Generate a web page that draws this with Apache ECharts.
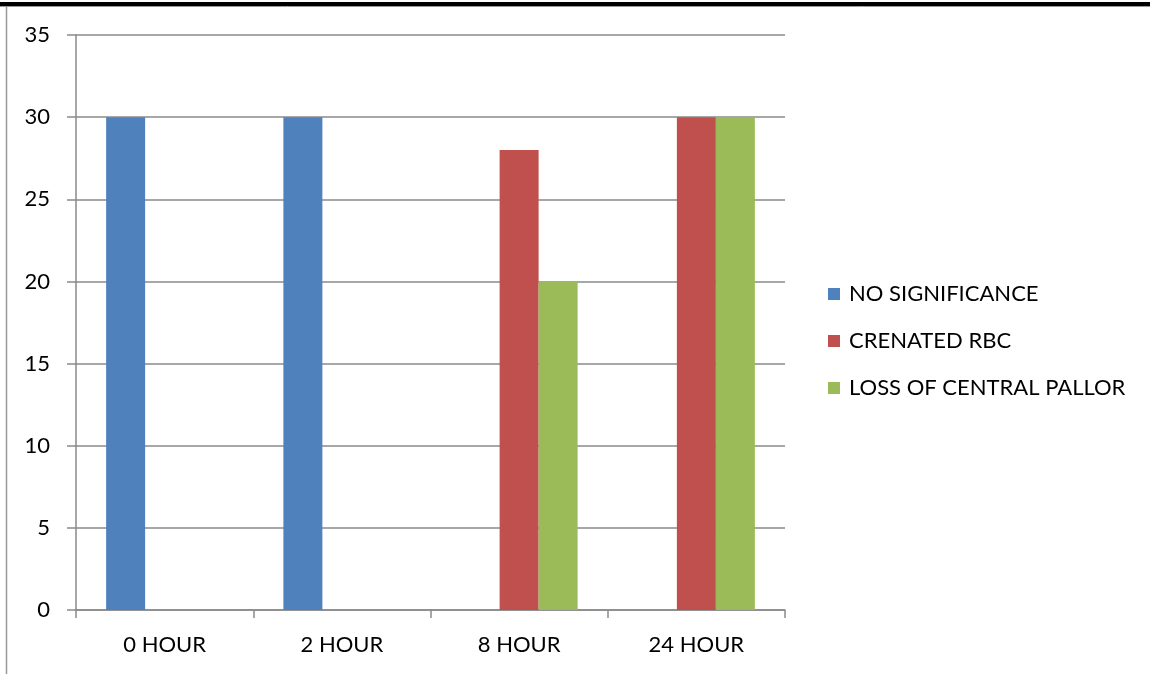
<!DOCTYPE html>
<html>
<head>
<meta charset="utf-8">
<script src="https://cdn.jsdelivr.net/npm/echarts@6/dist/echarts.min.js"></script>
<style>
  html, body { margin: 0; padding: 0; background: #fff; }
  #chart { width: 1150px; height: 674px; }
</style>
</head>
<body>
<div id="chart"></div>
<script>
// Observation times and counts per finding
const categories = ['0 HOUR', '2 HOUR', '8 HOUR', '24 HOUR'];
const seriesNames = ['NO SIGNIFICANCE', 'CRENATED RBC', 'LOSS OF CENTRAL PALLOR'];
const noSignificance = [30, 30, 0, 0];
const crenatedRbc = [0, 0, 28, 30];
const lossOfCentralPallor = [0, 0, 20, 30];
const seriesColors = ['#4F81BD', '#C0504D', '#9BBB59'];

const FONT = 'Lato';
const chart = echarts.init(document.getElementById('chart'));

const values = [noSignificance, crenatedRbc, lossOfCentralPallor];

chart.setOption({
  animation: false,
  backgroundColor: '#fff',
  textStyle: { fontFamily: FONT },
  grid: { left: 76, right: 365, top: 35, bottom: 64, containLabel: false },
  legend: {
    orient: 'vertical',
    left: 828,
    top: 281,
    padding: 0,
    itemWidth: 12,
    itemHeight: 12,
    itemGap: 21,
    icon: 'rect',
    textStyle: { fontFamily: FONT, fontSize: 22, color: '#000', lineHeight: 26, padding: [0, 0, 0, 4] },
    data: seriesNames
  },
  xAxis: {
    type: 'category',
    data: categories,
    axisLine: { lineStyle: { color: '#8a8a8a', width: 1.5 } },
    axisTick: { show: true, length: 8, lineStyle: { color: '#8a8a8a', width: 1.5 } },
    axisLabel: { fontFamily: FONT, fontSize: 22, color: '#000', margin: 24 }
  },
  yAxis: {
    type: 'value',
    min: 0,
    max: 35,
    interval: 5,
    axisLine: { show: true, lineStyle: { color: '#8a8a8a', width: 1.5 } },
    axisTick: { show: true, length: 9, lineStyle: { color: '#8a8a8a', width: 1.5 } },
    axisLabel: { fontFamily: FONT, fontSize: 22, color: '#000', margin: 26 },
    splitLine: { show: true, lineStyle: { color: '#8a8a8a', width: 1.5 } }
  },
  series: seriesNames.map((name, i) => ({
    name,
    type: 'bar',
    data: values[i],
    barGap: '0%',
    barCategoryGap: '34%',
    itemStyle: { color: seriesColors[i] }
  })),
  graphic: [
    { type: 'rect', shape: { x: 0, y: 2, width: 1150, height: 4 }, style: { fill: '#000' }, silent: true },
    { type: 'line', shape: { x1: 0, y1: 6.5, x2: 1150, y2: 6.5 }, style: { stroke: '#999', lineWidth: 1 }, silent: true },
    { type: 'line', shape: { x1: 6.5, y1: 6, x2: 6.5, y2: 674 }, style: { stroke: '#999', lineWidth: 1.5 }, silent: true }
  ]
});
</script>
</body>
</html>
